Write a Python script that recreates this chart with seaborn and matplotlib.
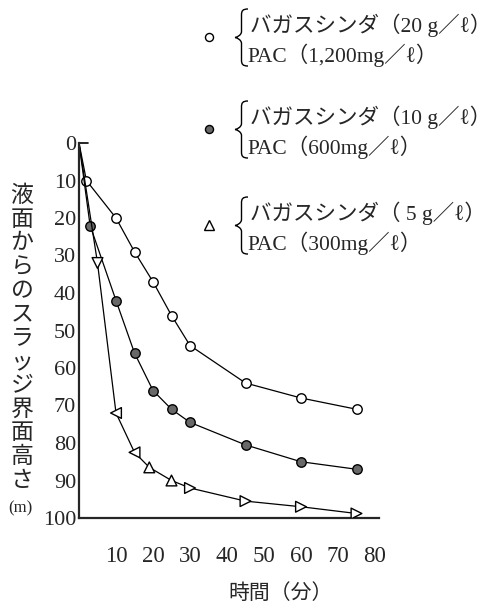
import numpy as np
import pandas as pd
import matplotlib
matplotlib.use('Agg')
import matplotlib.pyplot as plt
from matplotlib.lines import Line2D
from matplotlib.path import Path
from matplotlib.patches import PathPatch
import seaborn as sns

# 時間 (分) と スラッジ界面高さ
time_20 = [0, 2, 10, 15, 20, 25, 30, 45, 60, 75]
height_20 = [0, 10, 20, 29, 37, 46, 54, 64, 68, 71]

time_10 = [0, 3, 10, 15, 20, 25, 30, 45, 60, 75]
height_10 = [0, 22, 42, 56, 66, 71, 74.5, 80.5, 85, 87]

time_5 = [0, 5, 10, 15, 19, 25, 30, 45, 60, 75]
height_5 = [0, 32, 72, 82.5, 86.5, 90, 92, 95.5, 97, 98.8]
tri_marks = ['', 'v', '<', '<', '^', '^', '>', '>', '>', '>']

legend_lines = [
    ('バガスシンダ（20 g／ℓ）', 'PAC（1,200mg／ℓ）'),
    ('バガスシンダ（10 g／ℓ）', 'PAC（600mg／ℓ）'),
    ('バガスシンダ（ 5 g／ℓ）', 'PAC（300mg／ℓ）'),
]
x_ticks = [10, 20, 30, 40, 50, 60, 70, 80]
y_ticks = [0, 10, 20, 30, 40, 50, 60, 70, 80, 90, 100]

sns.set_style('white')
plt.rcParams['font.family'] = ['Liberation Serif', 'Noto Sans CJK JP']

W, H = 499, 609
fig = plt.figure(figsize=(W / 100, H / 100), dpi=100)
ax = fig.add_axes([79 / W, 1 - 518 / H, 299.7 / W, 375 / H])

df20 = pd.DataFrame({'t': time_20, 'h': height_20})
df10 = pd.DataFrame({'t': time_10, 'h': height_10})
df5 = pd.DataFrame({'t': time_5, 'h': height_5, 'm': tri_marks})

sns.lineplot(data=df20, x='t', y='h', ax=ax, color='black', lw=0.9,
             marker='o', ms=6.8, mfc='white', mec='black', mew=1.0,
             markevery=list(range(1, len(df20))), sort=False)
sns.lineplot(data=df10, x='t', y='h', ax=ax, color='black', lw=0.9,
             marker='o', ms=6.8, mfc='#686868', mec='black', mew=1.0,
             markevery=list(range(1, len(df10))), sort=False)
sns.lineplot(data=df5, x='t', y='h', ax=ax, color='black', lw=0.9, sort=False)
pts = df5[df5['m'] != '']
sns.scatterplot(data=pts, x='t', y='h', style='m',
                markers={m: m for m in pts['m'].unique()},
                s=60, facecolor='white', edgecolor='black', linewidth=1.0,
                ax=ax, legend=False, zorder=3)

ax.set_xlim(0, 81)
ax.set_ylim(100, 0)
ax.set_xticks(x_ticks)
ax.set_yticks(y_ticks)
ax.tick_params(axis='x', direction='in', length=3, pad=20, labelsize=16.5)
ax.tick_params(axis='y', direction='in', length=0, pad=2, labelsize=16)
ax.set_xlabel('')
ax.set_ylabel('')
for s in ['top', 'right']:
    ax.spines[s].set_visible(False)
ax.spines['left'].set_linewidth(1.6)
ax.spines['bottom'].set_linewidth(1.6)
ax.plot([0, 2.5], [0, 0], color='black', lw=1.2, clip_on=False)

# y label (縦書き)
ylab = '液面からのスラッジ界面高さ'
fig.text(22 / W, 1 - 338 / H, '\n'.join(ylab), ha='center', va='center',
         fontsize=16.5, linespacing=1.04, family=['Noto Sans CJK JP'])
fig.text(20 / W, 1 - 508 / H, '(m)', ha='center', va='center', fontsize=12)

fig.text(281 / W, 1 - 593 / H, '時間（分）', ha='center', va='center',
         fontsize=15, family=['Noto Sans CJK JP'])


def brace(xl, xr, yt, yb):
    xm = (xl + xr) / 2
    yc = (yt + yb) / 2
    k = 6
    pts_px = [(xr, yt), (xm + 1, yt), (xm, yt + 2), (xm, yt + k),
              (xm, yc - k),
              (xm, yc - 2), (xl + 1, yc), (xl, yc),
              (xl + 1, yc), (xm, yc + 2), (xm, yc + k),
              (xm, yb - k),
              (xm, yb - 2), (xm + 1, yb), (xr, yb)]
    codes = [Path.MOVETO, Path.CURVE4, Path.CURVE4, Path.CURVE4, Path.LINETO,
             Path.CURVE4, Path.CURVE4, Path.CURVE4,
             Path.CURVE4, Path.CURVE4, Path.CURVE4, Path.LINETO,
             Path.CURVE4, Path.CURVE4, Path.CURVE4]
    verts = [(x / W, 1 - y / H) for x, y in pts_px]
    fig.add_artist(PathPatch(Path(verts, codes), fc='none', ec='black',
                             lw=1.0, transform=fig.transFigure))


# legend
marker_style = [dict(marker='o', mfc='white', ms=5.8),
                dict(marker='o', mfc='#686868', ms=5.8),
                dict(marker='^', mfc='white', ms=7)]
ys = [25, 117, 213]
for (l1, l2), y0, st in zip(legend_lines, ys, marker_style):
    fig.add_artist(Line2D([209 / W], [1 - (y0 + 12) / H], ls='none',
                          mec='black', mew=1.0, transform=fig.transFigure, **st))
    brace(235, 248, y0 - 16, y0 + 41)
    fig.text(250 / W, 1 - y0 / H, l1, ha='left', va='center', fontsize=15.5)
    fig.text(247 / W, 1 - (y0 + 30) / H, l2, ha='left', va='center', fontsize=15.5)

fig.savefig('out.png', dpi=100)
